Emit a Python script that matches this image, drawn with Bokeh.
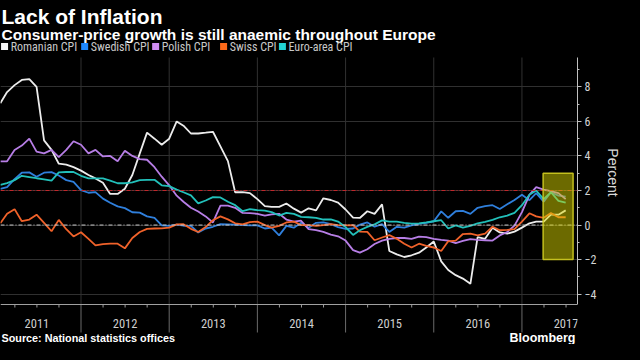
import pandas as pd
from bokeh.plotting import figure
from bokeh.models import Range1d, FixedTicker, Span, BoxAnnotation
from bokeh.core.properties import value
from bokeh.embed import file_html
from bokeh.resources import INLINE

# ---------------- data ----------------
series_names = ["Romanian CPI", "Swedish CPI", "Polish CPI", "Swiss CPI", "Euro-area CPI"]
line_colors = ["#ececec", "#2f7fdc", "#b77ee6", "#f0622a", "#22c0ba"]
legend_colors = ["#f4f4f4", "#1e88ff", "#cf8cf2", "#ff6a1a", "#22d3d3"]

n_months = 78  # Jan 2011 .. Jun 2017, plotted at month end
month_ends = [pd.Timestamp(2011 + i // 12, i % 12 + 1, 1) + pd.offsets.MonthEnd(0) for i in range(n_months)]

romanian = [7.05, 7.7, 8.1, 8.4, 8.45, 8.0, 4.9, 4.35, 3.55, 3.5, 3.35, 3.15,
            2.9, 2.7, 2.45, 1.8, 1.8, 2.1, 2.9, 4.15, 5.35, 5.0, 4.65, 5.0,
            6.0, 5.75, 5.3, 5.3, 5.35, 5.4, 4.55, 3.7, 1.9, 1.9, 1.85, 1.5,
            1.1, 1.05, 1.05, 1.25, 0.95, 0.72, 0.97, 0.85, 1.55, 1.45, 1.3, 0.9,
            0.43, 0.41, 0.8, 0.65, 1.2, -1.5, -1.7, -1.85, -1.75, -1.6, -1.3, -0.95,
            -2.1, -2.6, -2.9, -3.1, -3.4, -0.7, -0.8, -0.15, -0.43, -0.5, -0.38, -0.15,
            0.1, 0.2, 0.2, 0.6, 0.6, 0.85]
swedish = [2.1, 2.2, 2.66, 3.03, 3.05, 2.8, 3.03, 3.06, 2.87, 2.6, 2.5, 2.02,
           1.87, 1.91, 1.53, 1.29, 1.08, 0.98, 0.74, 0.72, 0.5, 0.42, -0.02, -0.05,
           0.03, -0.04, -0.05, -0.43, -0.2, -0.1, 0.05, 0.04, 0.03, 0.0, -0.02, -0.02,
           -0.2, -0.15, -0.6, -0.05, -0.15, 0.13, -0.15, 0.13, 0.15, 0.05, -0.12, -0.22,
           -0.2, 0.02, 0.15, -0.1, 0.05, -0.4, -0.1, -0.15, -0.02, 0.07, 0.13, 0.22,
           0.79, 0.42, 0.8, 0.82, 0.65, 1.0, 1.1, 1.15, 0.93, 1.2, 1.45, 1.75,
           1.44, 1.85, 1.35, 1.9, 1.7, 1.65]
polish = [3.69, 3.69, 4.35, 4.6, 5.0, 4.25, 4.15, 4.35, 3.93, 4.35, 4.85, 4.65,
          4.15, 4.35, 3.97, 4.0, 3.69, 4.3, 4.0, 3.82, 3.78, 3.35, 2.8, 2.3,
          1.7, 1.35, 1.0, 0.78, 0.5, 0.15, 1.12, 1.12, 1.0, 0.7, 0.69, 0.65,
          0.55, 0.62, 0.65, 0.32, 0.2, 0.25, -0.24, -0.3, -0.4, -0.55, -0.65, -0.9,
          -1.45, -1.6, -1.4, -1.1, -0.9, -0.8, -0.75, -0.75, -0.8, -0.67, -0.7, -0.8,
          -0.86, -0.9, -1.05, -0.92, -0.82, -0.86, -0.88, -0.9, -0.6, -0.4, -0.03, 0.75,
          1.75, 2.2, 2.05, 1.97, 1.85, 1.5]
swiss = [0.1, 0.65, 0.92, 0.22, 0.32, 0.6, 0.13, -0.36, 0.3, -0.24, -0.66, -0.42,
         -0.8, -1.18, -1.1, -1.08, -1.08, -1.35, -0.75, -0.4, -0.22, -0.2, -0.19, -0.15,
         0.04, 0.05, -0.22, -0.4, -0.12, 0.28, 0.5, 0.33, 0.1, 0.04, 0.17, 0.2,
         0.0, -0.15, -0.05, 0.15, 0.2, 0.0, 0.0, -0.05, 0.0, 0.05, 0.0, -0.02,
         0.0, -0.38, -0.4, -0.88, -0.72, -0.58, -0.8, -1.08, -1.3, -1.08, -1.2, -1.3,
         -1.5, -0.94, -0.9, -0.52, -0.5, -0.6, -0.5, -0.1, -0.3, -0.28, -0.24, 0.2,
         0.68, 0.5, 0.42, 0.69, 0.45, 0.45]
euro_area = [2.32, 2.43, 2.6, 2.85, 2.78, 2.71, 2.65, 2.57, 3.05, 3.07, 3.07, 2.85,
             2.7, 2.7, 2.7, 2.57, 2.42, 2.42, 2.47, 2.6, 2.62, 2.62, 2.3, 2.25,
             2.05, 1.9, 1.72, 1.25, 1.42, 1.62, 1.6, 1.35, 1.15, 0.8, 0.92, 0.86,
             0.83, 0.75, 0.55, 0.7, 0.65, 0.47, 0.45, 0.42, 0.32, 0.33, 0.2, -0.12,
             -0.57, -0.3, -0.11, 0.04, 0.27, 0.2, 0.2, 0.13, 0.08, 0.1, 0.15, 0.22,
             0.28, -0.2, -0.02, -0.15, -0.05, 0.1, 0.18, 0.3, 0.45, 0.55, 0.7, 1.15,
             1.75, 2.0, 1.5, 1.9, 1.4, 1.3]
series_values = [romanian, swedish, polish, swiss, euro_area]

year_labels = ["2011", "2012", "2013", "2014", "2015", "2016", "2017"]
y_ticks = [-4, -2, 0, 2, 4, 6, 8]
y_minor = [-3, -1, 1, 3, 5, 7, 9]
target_level = 2
zero_level = 0
highlight_left, highlight_right = 2017.24, 2017.58
highlight_bottom, highlight_top = -2, 3

title_text = "Lack of Inflation"
subtitle_text = "Consumer-price growth is still anaemic throughout Europe"
source_text = "Source: National statistics offices"
brand_text = "Bloomberg"
unit_text = "Percent"

# ---------------- layout helpers ----------------
def frac_year(d):
    days = 366 if d.is_leap_year else 365
    return d.year + d.dayofyear / days

x = [frac_year(d) for d in month_ends]
years = [int(y) for y in year_labels]
year_starts = [float(y) for y in years[1:]]
quarter_ticks = [y + q for y in years for q in (0.25, 0.5, 0.75)]
year_mids = [y + 0.5 for y in years]

COND = "Roboto Condensed"
SANS = "Liberation Sans"
W, H = 624, 344
FW = 569  # measured frame width (canvas minus right axis panel)
X0, X1 = 2011.087, 2017.63
PLOT_TOP, PLOT_BOTTOM = 9.7, -4.6
FRAME_TOP_PX, AXIS_PX = 57, 304
PPU = (AXIS_PX - FRAME_TOP_PX) / (PLOT_TOP - PLOT_BOTTOM)
Y_TOP = PLOT_TOP + FRAME_TOP_PX / PPU
Y_BOT = PLOT_BOTTOM - (H - AXIS_PX) / PPU
PPX = FW / (X1 - X0)

def cy(px):
    return Y_TOP - px / PPU

def cx(px):
    return X0 + px / PPX

p = figure(width=W, height=H,
           x_range=Range1d(X0, X1), y_range=Range1d(Y_BOT, Y_TOP),
           x_axis_location=None, y_axis_location="right",
           output_backend="svg", toolbar_location=None,
           background_fill_color="#000000", border_fill_color="#000000",
           outline_line_color=None, min_border=0,
           min_border_left=0, min_border_right=0,
           min_border_top=0, min_border_bottom=0)

# right axis, limited to the plotted window
ya = p.yaxis[0]
ya.bounds = (PLOT_BOTTOM, PLOT_TOP)
ya.ticker = FixedTicker(ticks=y_ticks, minor_ticks=y_minor)
ya.major_tick_out = 4
ya.major_tick_in = 0
ya.minor_tick_out = 2
ya.minor_tick_in = 0
ya.axis_line_color = "#c0c0c0"
ya.major_tick_line_color = "#c0c0c0"
ya.minor_tick_line_color = "#c0c0c0"
ya.major_label_text_color = "#d4d4d4"
ya.major_label_text_font = COND
ya.major_label_text_font_size = "12px"
ya.major_label_standoff = 3
ya.axis_label = unit_text
ya.axis_label_text_font = SANS
ya.axis_label_text_font_size = "14px"
ya.axis_label_text_font_style = "normal"
ya.axis_label_text_color = "#d8d8d8"
ya.axis_label_standoff = 6

p.ygrid.grid_line_color = "#303030"
p.xgrid.grid_line_color = None

# vertical year separators: dark inside the plot, lighter below the axis
p.segment(x0=year_starts, y0=[PLOT_BOTTOM] * len(year_starts),
          x1=year_starts, y1=[PLOT_TOP] * len(year_starts),
          line_color="#303030", line_width=1)
p.segment(x0=year_starts, y0=[PLOT_BOTTOM] * len(year_starts),
          x1=year_starts, y1=[cy(AXIS_PX + 28)] * len(year_starts),
          line_color="#6a6a6a", line_width=1)
q_in = [q for q in quarter_ticks if X0 < q < X1 and q not in year_starts]
p.segment(x0=q_in, y0=[PLOT_BOTTOM] * len(q_in), x1=q_in,
          y1=[cy(AXIS_PX + 3)] * len(q_in), line_color="#9a9a9a", line_width=1)
p.add_layout(Span(location=PLOT_BOTTOM, dimension="width", line_color="#a0a0a0", line_width=1))

for vals, col in zip(series_values, line_colors):
    p.line(x, vals, line_color=col, line_width=1.8)

p.add_layout(Span(location=zero_level, dimension="width", line_color="#c8c8c8",
                  line_dash="4 2 1 2", line_width=1))
p.add_layout(Span(location=target_level, dimension="width", line_color="#c0262a",
                  line_dash="4 2 1 2", line_width=1.2))
p.add_layout(BoxAnnotation(left=highlight_left, right=highlight_right,
                           bottom=highlight_bottom, top=highlight_top,
                           fill_color="#d8d400", fill_alpha=0.5,
                           line_color="#d0cc20", line_alpha=0.9, line_width=1.5))

def txt(xs, ys, texts, size, font, color="#ffffff", bold=False, align="left", baseline="alphabetic"):
    p.text(x=xs, y=ys, text=texts, text_font=value(font), text_font_size=value(size),
           text_font_style="bold" if bold else "normal", text_color=color,
           text_align=align, text_baseline=baseline)

txt([cx(1)], [cy(16)], [title_text], "21px", SANS, bold=True)
txt([cx(1)], [cy(34)], [subtitle_text], "15.5px", SANS, bold=True)

legend_px = [1, 80, 150, 217, 275]
p.scatter([cx(px + 3) for px in legend_px], [cy(46)] * 5, marker="square", size=7,
          fill_color=legend_colors, line_color=None)
txt([cx(px + 9) for px in legend_px], [cy(46.5)] * 5, series_names, "12px", COND,
    color="#c8c8c8", baseline="middle")

txt(year_mids, [cy(AXIS_PX + 19)] * len(year_mids), year_labels, "12.5px", COND,
    color="#cfcfcf", align="center", baseline="middle")

txt([cx(1)], [cy(337)], [source_text], "10.8px", SANS, bold=True, baseline="middle")
txt([cx(FW - 2)], [cy(337)], [brand_text], "12.5px", SANS, bold=True, align="right", baseline="middle")

html = file_html(p, INLINE, title="Lack of Inflation")
html = html.replace("<head>", "<head><style>html,body{background:#000000;overflow:hidden;}</style>", 1)
open("out.html", "w").write(html)
